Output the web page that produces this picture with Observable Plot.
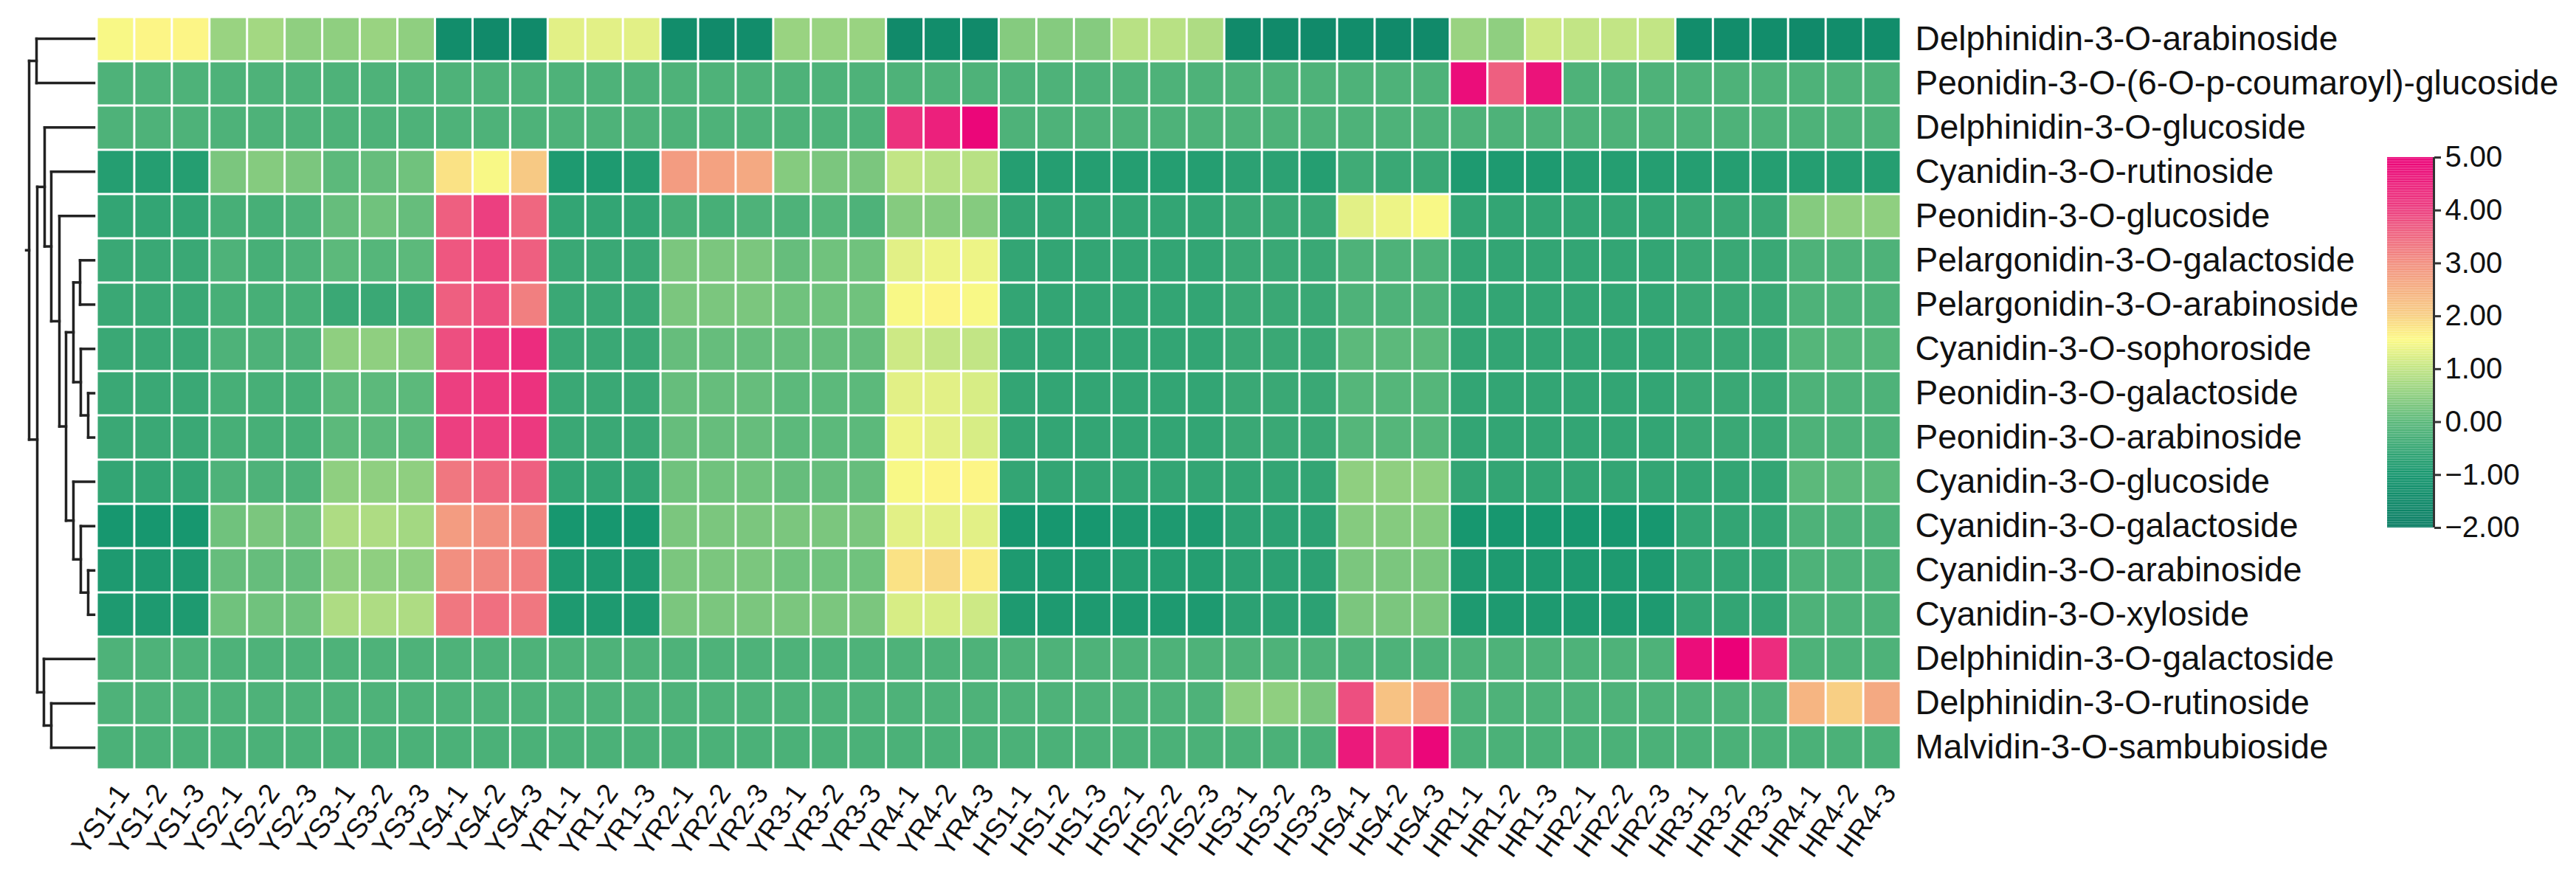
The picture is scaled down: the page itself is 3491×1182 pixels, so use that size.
<!DOCTYPE html>
<html><head><meta charset="utf-8">
<script src="https://cdn.jsdelivr.net/npm/d3@7"></script>
<script src="https://cdn.jsdelivr.net/npm/@observablehq/plot@0.6"></script>
<style>
body{margin:0;background:#fff;}
#wrap{position:relative;width:3491px;height:1182px;background:#fff;overflow:hidden;}
#wrap svg{position:absolute;font-family:"Liberation Sans",Arial,sans-serif;}
</style></head><body><div id="wrap"></div>
<script>
const samples = ["YS1-1","YS1-2","YS1-3","YS2-1","YS2-2","YS2-3","YS3-1","YS3-2","YS3-3","YS4-1","YS4-2","YS4-3",
  "YR1-1","YR1-2","YR1-3","YR2-1","YR2-2","YR2-3","YR3-1","YR3-2","YR3-3","YR4-1","YR4-2","YR4-3",
  "HS1-1","HS1-2","HS1-3","HS2-1","HS2-2","HS2-3","HS3-1","HS3-2","HS3-3","HS4-1","HS4-2","HS4-3",
  "HR1-1","HR1-2","HR1-3","HR2-1","HR2-2","HR2-3","HR3-1","HR3-2","HR3-3","HR4-1","HR4-2","HR4-3"];

const compounds = ["Delphinidin-3-O-arabinoside","Peonidin-3-O-(6-O-p-coumaroyl)-glucoside","Delphinidin-3-O-glucoside",
  "Cyanidin-3-O-rutinoside","Peonidin-3-O-glucoside","Pelargonidin-3-O-galactoside","Pelargonidin-3-O-arabinoside",
  "Cyanidin-3-O-sophoroside","Peonidin-3-O-galactoside","Peonidin-3-O-arabinoside","Cyanidin-3-O-glucoside",
  "Cyanidin-3-O-galactoside","Cyanidin-3-O-arabinoside","Cyanidin-3-O-xyloside","Delphinidin-3-O-galactoside",
  "Delphinidin-3-O-rutinoside","Malvidin-3-O-sambubioside"];

// values (row-wise, 48 samples each)
const values = [
 [1.5,1.6,1.6, 0.6,0.7,0.5, 0.5,0.6,0.5, -1.4,-1.5,-1.5, 1.3,1.3,1.3, -1.4,-1.5,-1.4, 0.6,0.6,0.6, -1.5,-1.4,-1.5, 0.4,0.4,0.4, 0.9,0.9,0.8, -1.5,-1.5,-1.5, -1.4,-1.5,-1.5, 0.6,0.5,1.1, 1.0,1.0,1.0, -1.4,-1.4,-1.4, -1.5,-1.4,-1.4],
 [-0.2,-0.2,-0.2, -0.2,-0.2,-0.2, -0.2,-0.2,-0.2, -0.2,-0.2,-0.2, -0.2,-0.2,-0.2, -0.2,-0.2,-0.2, -0.2,-0.2,-0.2, -0.2,-0.2,-0.2, -0.2,-0.2,-0.2, -0.2,-0.2,-0.2, -0.2,-0.2,-0.2, -0.2,-0.2,-0.2, 4.8,3.6,4.7, -0.2,-0.2,-0.2, -0.2,-0.2,-0.2, -0.2,-0.2,-0.2],
 [-0.2,-0.2,-0.2, -0.2,-0.2,-0.2, -0.2,-0.2,-0.2, -0.2,-0.2,-0.2, -0.2,-0.2,-0.2, -0.2,-0.2,-0.2, -0.2,-0.2,-0.2, 4.2,4.5,4.9, -0.2,-0.2,-0.2, -0.2,-0.2,-0.2, -0.2,-0.2,-0.2, -0.2,-0.2,-0.2, -0.2,-0.2,-0.2, -0.2,-0.2,-0.2, -0.2,-0.2,-0.2, -0.2,-0.2,-0.2],
 [-0.8,-0.8,-0.8, 0.3,0.4,0.3, 0.0,0.1,0.2, 1.8,1.5,2.1, -0.9,-0.9,-0.8, 2.8,2.7,2.6, 0.4,0.3,0.3, 1.0,0.9,0.9, -0.8,-0.8,-0.8, -0.8,-0.8,-0.8, -0.7,-0.7,-0.8, -0.4,-0.5,-0.5, -0.9,-0.9,-0.9, -0.8,-0.8,-0.8, -0.8,-0.8,-0.8, -0.8,-0.8,-0.8],
 [-0.6,-0.6,-0.6, -0.3,-0.3,-0.2, 0.1,0.2,0.1, 3.6,4.0,3.5, -0.6,-0.6,-0.6, -0.3,-0.3,-0.2, -0.2,-0.1,-0.2, 0.4,0.4,0.4, -0.6,-0.6,-0.6, -0.6,-0.6,-0.6, -0.5,-0.5,-0.5, 1.3,1.4,1.5, -0.6,-0.6,-0.6, -0.6,-0.6,-0.6, -0.5,-0.5,-0.5, 0.4,0.5,0.5],
 [-0.5,-0.5,-0.5, -0.2,-0.3,-0.2, 0.0,-0.1,0.0, 3.7,3.9,3.6, -0.5,-0.5,-0.5, 0.3,0.3,0.3, 0.1,0.2,0.2, 1.3,1.4,1.4, -0.6,-0.6,-0.6, -0.6,-0.6,-0.6, -0.5,-0.5,-0.5, -0.2,-0.2,-0.2, -0.6,-0.6,-0.6, -0.6,-0.6,-0.6, -0.5,-0.5,-0.5, -0.2,-0.2,-0.2],
 [-0.5,-0.5,-0.5, -0.3,-0.3,-0.3, -0.5,-0.5,-0.4, 3.6,3.8,3.2, -0.5,-0.5,-0.5, 0.3,0.3,0.3, 0.2,0.2,0.2, 1.5,1.6,1.5, -0.6,-0.6,-0.6, -0.6,-0.6,-0.6, -0.5,-0.5,-0.5, -0.2,-0.2,-0.2, -0.6,-0.6,-0.6, -0.6,-0.6,-0.6, -0.5,-0.5,-0.5, -0.2,-0.2,-0.2],
 [-0.5,-0.5,-0.5, -0.2,-0.2,-0.2, 0.5,0.5,0.4, 3.8,4.1,4.3, -0.5,-0.5,-0.5, 0.1,0.1,0.1, 0.1,0.1,0.1, 1.1,1.0,1.0, -0.6,-0.6,-0.6, -0.6,-0.6,-0.6, -0.5,-0.5,-0.5, 0.0,0.0,0.0, -0.6,-0.6,-0.6, -0.6,-0.6,-0.6, -0.5,-0.5,-0.5, -0.1,-0.1,-0.1],
 [-0.5,-0.5,-0.5, -0.3,-0.3,-0.3, 0.0,0.0,0.0, 4.0,4.1,4.2, -0.5,-0.5,-0.5, 0.1,0.1,0.1, 0.0,0.0,0.0, 1.3,1.3,1.2, -0.6,-0.6,-0.6, -0.6,-0.6,-0.6, -0.5,-0.5,-0.5, -0.1,-0.1,-0.1, -0.6,-0.6,-0.6, -0.6,-0.6,-0.6, -0.5,-0.5,-0.5, -0.2,-0.2,-0.2],
 [-0.5,-0.5,-0.5, -0.3,-0.3,-0.3, 0.0,0.0,0.0, 4.0,4.0,4.1, -0.5,-0.5,-0.5, 0.1,0.1,0.1, 0.0,0.0,0.0, 1.4,1.3,1.2, -0.6,-0.6,-0.6, -0.6,-0.6,-0.6, -0.5,-0.5,-0.5, -0.1,-0.1,-0.1, -0.6,-0.6,-0.6, -0.6,-0.6,-0.6, -0.5,-0.5,-0.5, -0.2,-0.2,-0.2],
 [-0.6,-0.6,-0.6, -0.2,-0.2,-0.2, 0.5,0.5,0.5, 3.3,3.5,3.6, -0.6,-0.6,-0.6, 0.2,0.2,0.2, 0.1,0.1,0.1, 1.5,1.6,1.6, -0.6,-0.6,-0.6, -0.6,-0.6,-0.6, -0.6,-0.6,-0.6, 0.5,0.5,0.5, -0.6,-0.6,-0.6, -0.6,-0.6,-0.6, -0.6,-0.6,-0.6, 0.0,0.0,0.0],
 [-1.0,-1.0,-1.0, 0.2,0.3,0.2, 0.8,0.8,0.7, 2.8,3.0,3.1, -1.0,-1.0,-1.0, 0.3,0.3,0.3, 0.3,0.3,0.3, 1.3,1.3,1.3, -1.0,-1.0,-1.0, -0.9,-0.9,-0.9, -0.7,-0.7,-0.7, 0.4,0.4,0.4, -1.0,-1.0,-1.0, -1.0,-1.0,-1.0, -0.6,-0.6,-0.6, -0.2,-0.2,-0.2],
 [-0.9,-0.9,-0.9, 0.1,0.1,0.1, 0.5,0.5,0.5, 3.0,3.1,3.2, -0.9,-0.9,-0.9, 0.3,0.3,0.3, 0.2,0.2,0.2, 1.8,1.9,1.7, -0.9,-0.9,-0.9, -0.8,-0.8,-0.8, -0.7,-0.7,-0.7, 0.3,0.3,0.3, -0.9,-0.9,-0.9, -0.9,-0.9,-0.9, -0.6,-0.6,-0.6, -0.2,-0.2,-0.2],
 [-0.9,-0.9,-0.9, 0.2,0.2,0.2, 0.8,0.8,0.8, 3.3,3.4,3.3, -0.9,-0.9,-0.9, 0.3,0.3,0.3, 0.3,0.3,0.3, 1.2,1.2,1.1, -0.9,-0.9,-0.9, -0.9,-0.9,-0.9, -0.7,-0.7,-0.7, 0.3,0.3,0.3, -0.9,-0.9,-0.9, -0.9,-0.9,-0.9, -0.6,-0.6,-0.6, -0.2,-0.2,-0.2],
 [-0.2,-0.2,-0.2, -0.2,-0.2,-0.2, -0.2,-0.2,-0.2, -0.2,-0.2,-0.2, -0.2,-0.2,-0.2, -0.2,-0.2,-0.2, -0.2,-0.2,-0.2, -0.2,-0.2,-0.2, -0.2,-0.2,-0.2, -0.2,-0.2,-0.2, -0.2,-0.2,-0.2, -0.2,-0.2,-0.2, -0.2,-0.2,-0.2, -0.2,-0.2,-0.2, 4.8,5.0,4.3, -0.2,-0.2,-0.2],
 [-0.2,-0.2,-0.2, -0.2,-0.2,-0.2, -0.2,-0.2,-0.2, -0.2,-0.2,-0.2, -0.2,-0.2,-0.2, -0.2,-0.2,-0.2, -0.2,-0.2,-0.2, -0.2,-0.2,-0.2, -0.2,-0.2,-0.2, -0.2,-0.2,-0.2, 0.5,0.5,0.3, 3.8,2.2,2.7, -0.2,-0.2,-0.2, -0.2,-0.2,-0.2, -0.2,-0.2,-0.2, 2.4,2.0,2.6],
 [-0.25,-0.25,-0.25, -0.25,-0.25,-0.25, -0.25,-0.25,-0.25, -0.25,-0.25,-0.25, -0.25,-0.25,-0.25, -0.25,-0.25,-0.25, -0.25,-0.25,-0.25, -0.25,-0.25,-0.25, -0.25,-0.25,-0.25, -0.25,-0.25,-0.25, -0.25,-0.25,-0.25, 4.6,4.0,4.9, -0.25,-0.25,-0.25, -0.25,-0.25,-0.25, -0.25,-0.25,-0.25, -0.25,-0.25,-0.25]
];

// dendrogram merges: [childA, childB, height]; child >= 0 is a row index, child < 0 refers to merge -(child+1)
const merges = [
 [5, 6, 19], [8, 9, 8], [7, -2, 18], [-1, -3, 28],
 [12, 13, 8], [11, -5, 18], [10, -6, 28], [-4, -7, 38],
 [4, -8, 47], [3, -9, 58], [2, -10, 67],
 [15, 16, 58], [14, -12, 68], [-11, -13, 77],
 [0, 1, 78], [-15, -14, 88]
];
const rootTip = 92;

const legendTicks = [-2, -1, 0, 1, 2, 3, 4, 5];
const colorStops = [-2, -1, 0, 1, 1.55, 2, 3, 4, 5];
const colorRange = ["#0a7d64", "#17976f", "#5cb97b", "#c2e585", "#fdfa86", "#f8cf84", "#f28f80", "#ec3f80", "#eb0078"];

const colorScale = {type: "linear", domain: colorStops, range: colorRange, interpolate: "rgb", clamp: true};
const FONT = "'Liberation Sans', Arial, sans-serif";

const cells = [];
compounds.forEach((c, i) => samples.forEach((s, j) => cells.push({compound: c, sample: s, value: values[i][j]})));

const W = 3491, H = 1182;
const wrap = document.getElementById("wrap");

const heat = Plot.plot({
  width: W, height: H,
  marginLeft: 131, marginRight: W - 2576, marginTop: 22, marginBottom: H - 1043,
  style: {fontFamily: FONT, color: "#111", background: "transparent"},
  x: {type: "band", domain: samples, padding: 0},
  y: {type: "band", domain: compounds, padding: 0},
  color: colorScale,
  marks: [
    Plot.cell(cells, {x: "sample", y: "compound", fill: "value", inset: 1.5}),
    Plot.axisY({anchor: "right", tickSize: 0, tickPadding: 19, fontSize: 46, label: null, fill: "#111"}),
    Plot.axisX({anchor: "bottom", tickSize: 0, tickRotate: -55, tickPadding: 10, dx: 10, dy: 14, fontSize: 38, label: null, fill: "#111"})
  ]
});
heat.style.left = "0px"; heat.style.top = "0px";
wrap.appendChild(heat);

// dendrogram segments
const info = [];
function node(c) {
  if (c >= 0) return {y: c, h: 0};
  return info[-(c + 1)];
}
const segs = [];
merges.forEach(([a, b, h], k) => {
  const A = node(a), B = node(b);
  segs.push({x1: h, y1: A.y, x2: h, y2: B.y});
  segs.push({x1: A.h, y1: A.y, x2: h, y2: A.y});
  segs.push({x1: B.h, y1: B.y, x2: h, y2: B.y});
  info[k] = {y: (A.y + B.y) / 2, h};
});
const root = info[info.length - 1];
segs.push({x1: root.h, y1: root.y, x2: rootTip, y2: root.y});

const dendro = Plot.plot({
  width: 131, height: H, margin: 0,
  style: {background: "transparent"},
  x: {domain: [95, 0], range: [32, 127], axis: null},
  y: {domain: [-0.5, compounds.length - 0.5], range: [22, 1043], axis: null},
  marks: [
    Plot.link(segs, {x1: "x1", y1: "y1", x2: "x2", y2: "y2", stroke: "#222", strokeWidth: 3.5, strokeLinecap: "square"})
  ]
});
dendro.style.left = "0px"; dendro.style.top = "0px";
wrap.appendChild(dendro);

// color bar
const steps = d3.range(-2, 5, 0.02).map(v => ({v, v2: v + 0.021}));
const bar = Plot.plot({
  width: 291, height: 580,
  marginLeft: 35, marginRight: 291 - 98, marginTop: 33, marginBottom: 580 - 535,
  style: {fontFamily: FONT, color: "#111", background: "transparent"},
  x: {domain: [0, 1], axis: null},
  y: {domain: [-2, 5], range: [535, 33]},
  color: colorScale,
  marks: [
    Plot.rect(steps, {x1: 0, x2: 1, y1: "v", y2: "v2", fill: "v"}),
    Plot.ruleX([1], {stroke: "#333", strokeWidth: 3}),
    Plot.axisY({anchor: "right", ticks: legendTicks, tickFormat: d3.format(".2f"), tickSize: 9, tickPadding: 6, strokeWidth: 3, stroke: "#333", fontSize: 40, label: null, fill: "#111"})
  ]
});
bar.style.left = "3200px"; bar.style.top = "180px";
wrap.appendChild(bar);
</script></body></html>
